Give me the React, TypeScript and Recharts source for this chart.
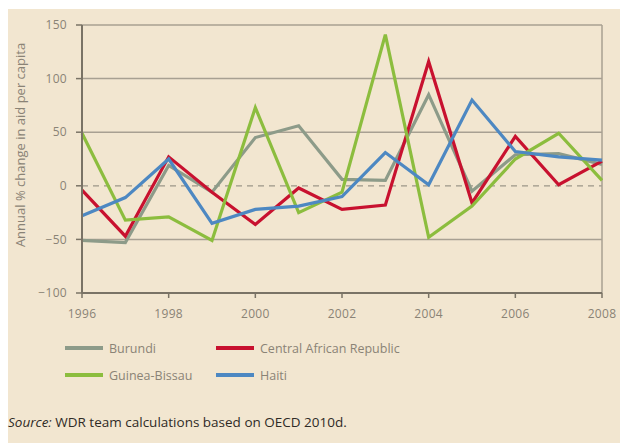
import React from 'react';
import { LineChart, Line, XAxis, YAxis, ReferenceLine } from 'recharts';

const years = [1996, 1997, 1998, 1999, 2000, 2001, 2002, 2003, 2004, 2005, 2006, 2007, 2008];
const burundi = [-51, -53, 19, -6, 45, 56, 6, 5, 85, -5, 29, 30, 20];
const centralAfricanRepublic = [-4, -47, 27, -6, -36, -2, -22, -18, 116, -16, 46, 1, 23];
const guineaBissau = [49, -32, -29, -51, 73, -25, -6, 141, -48, -19, 25, 49, 5];
const haiti = [-28, -11, 25, -35, -22, -19, -10, 31, 1, 80, 32, 27, 24];

const xTicks = [1996, 1998, 2000, 2002, 2004, 2006, 2008];
const yTicks = [-100, -50, 0, 50, 100, 150];
const gridValues = [150, 100, 50, -50];

const series = [
  { key: 'burundi', name: 'Burundi', color: '#8d9b89', values: burundi },
  { key: 'car', name: 'Central African Republic', color: '#c8112f', values: centralAfricanRepublic },
  { key: 'gb', name: 'Guinea-Bissau', color: '#8cbd3e', values: guineaBissau },
  { key: 'haiti', name: 'Haiti', color: '#4d88c2', values: haiti },
];

const data = years.map((year, i) => {
  const row: { [k: string]: number } = { year };
  series.forEach(s => { row[s.key] = s.values[i]; });
  return row;
});

const font = '"Open Sans", sans-serif';
const tickStyle = { fontSize: 12, fill: '#8a8376', fontFamily: font, letterSpacing: 0.3 };
const axisColor = '#7a7366';

const PLOT_LEFT = 82;

const formatY = (v: number) => (v < 0 ? `\u2212${Math.abs(v)}` : `${v}`);

// y tick labels: right edge fixed ~15px left of the axis line
const YTick = (props: any) => {
  const { y, payload } = props;
  return (
    <text x={PLOT_LEFT - 15} y={y} dy="0.35em" textAnchor="end" {...tickStyle}>
      {formatY(payload.value)}
    </text>
  );
};

const App: React.FC = () => {
  return (
    <div style={{ position: 'absolute', left: 0, top: 0, width: 620, height: 447, background: '#ffffff', fontFamily: font }}>
      <div style={{ position: 'absolute', left: 8, top: 9, width: 612, height: 434, background: '#f2e6d0' }} />
      <div style={{ position: 'absolute', left: 0, top: 0 }}>
        <LineChart width={620} height={447} data={data} margin={{ top: 25, right: 18, left: PLOT_LEFT - 50, bottom: 124 }}>
          {gridValues.map(v => (
            <ReferenceLine key={v} y={v} stroke="#a8a092" strokeWidth={1.5} ifOverflow="visible" />
          ))}
          <ReferenceLine y={0} stroke="#9c9688" strokeWidth={1.2} strokeDasharray="6 5" />
          <ReferenceLine x={2008} stroke="#a8a092" strokeWidth={1.5} ifOverflow="visible" />
          <XAxis
            dataKey="year"
            type="number"
            domain={[1996, 2008]}
            ticks={xTicks}
            interval={0}
            height={30}
            stroke={axisColor}
            strokeWidth={2}
            tickSize={5}
            tickMargin={11}
            tick={tickStyle}
            tickLine={{ stroke: axisColor, strokeWidth: 1.5 }}
          />
          <YAxis
            type="number"
            domain={[-100, 150]}
            ticks={yTicks}
            interval={0}
            width={50}
            stroke={axisColor}
            strokeWidth={2}
            tickSize={6}
            tick={YTick}
            tickLine={{ stroke: axisColor, strokeWidth: 1.5 }}
          />
          {series.map(s => (
            <Line
              key={s.key}
              dataKey={s.key}
              name={s.name}
              stroke={s.color}
              strokeWidth={3.2}
              dot={false}
              type="linear"
              isAnimationActive={false}
            />
          ))}
        </LineChart>
      </div>
      <div
        style={{
          position: 'absolute', left: 20, top: 145, transform: 'translate(-50%, -50%) rotate(-90deg)',
          whiteSpace: 'nowrap', fontSize: 13, color: '#8a8376',
        }}
      >
        Annual % change in aid per capita
      </div>
      {series.map((s, i) => (
        <div
          key={s.key}
          style={{
            position: 'absolute', left: i % 2 === 0 ? 65 : 216, top: i < 2 ? 339 : 366,
            display: 'flex', alignItems: 'center', height: 18, fontSize: 12.5, color: '#8a8376',
          }}
        >
          <span style={{ display: 'inline-block', width: 38, height: 4, background: s.color, marginRight: 6 }} />
          {s.name}
        </div>
      ))}
      <div style={{ position: 'absolute', left: 8, top: 413, fontSize: 13.5, color: '#2f2b26', whiteSpace: 'nowrap' }}>
        <i>Source:</i> WDR team calculations based on OECD 2010d.
      </div>
    </div>
  );
};

export default App;
